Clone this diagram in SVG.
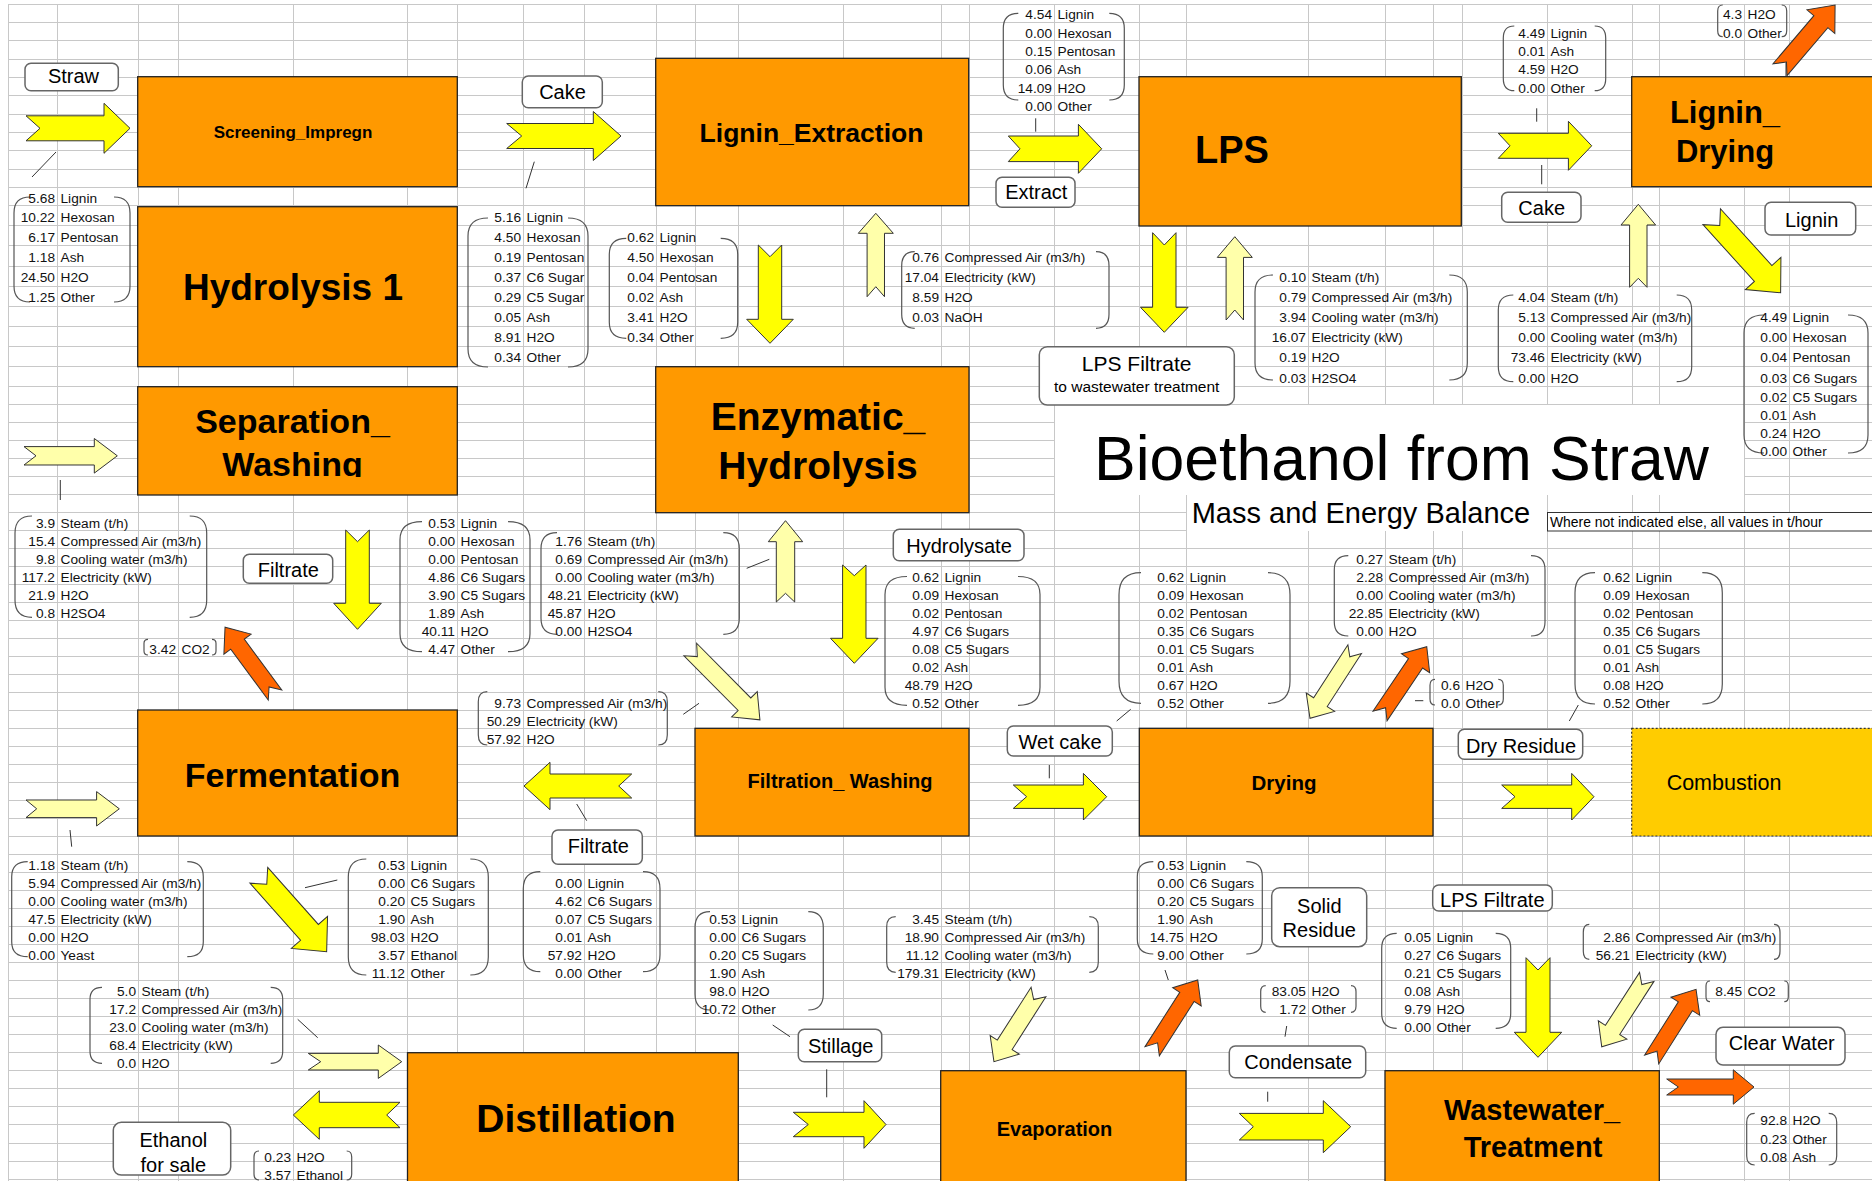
<svg xmlns="http://www.w3.org/2000/svg" width="1872" height="1181" viewBox="0 0 1872 1181">
<defs>
<style>
.g{stroke:#c8c8c8;stroke-width:1;fill:none}
.node{fill:#ff9900;stroke:#222;stroke-width:1.3}
.comb{fill:#ffcc00;stroke:#333;stroke-width:1.2;stroke-dasharray:2 2}
.nt{font-family:"Liberation Sans",Arial,sans-serif;font-weight:bold;fill:#000;text-anchor:middle}
.lb{fill:#fff;stroke:#666;stroke-width:1.5}
.lt{font-family:"Liberation Sans",Arial,sans-serif;font-size:20px;text-anchor:middle;fill:#000}
.br{fill:none;stroke:#555;stroke-width:1.2}
.d text{font-family:"Liberation Sans",Arial,sans-serif;font-size:13.7px;fill:#111}
.nm text{text-anchor:end}
.ay{fill:#ffff00;stroke:#333;stroke-width:1}
.al{fill:#ffffaa;stroke:#333;stroke-width:1}
.ao{fill:#ff6600;stroke:#333;stroke-width:1}
.ln{stroke:#333;stroke-width:1;fill:none}
.tt{font-family:"Liberation Sans",Arial,sans-serif;fill:#000}
</style>
<clipPath id="clipSep"><rect x="138" y="387" width="319" height="90"/></clipPath>
</defs>
<rect width="1872" height="1181" fill="#fff"/>
<g id="grid">
<path class="g" d="M8,4.5H1872M8,22.5H1872M8,40.5H1872M8,59.5H1872M8,77.5H1872M8,95.5H1872M8,114.5H1872M8,132.5H1872M8,150.5H1872M8,169.5H1872M8,187.5H1872M8,205.5H1872M8,225.5H1872M8,245.5H1872M8,266.5H1872M8,286.5H1872M8,306.5H1872M8,326.5H1872M8,346.5H1872M8,366.5H1872M8,386.5H1872M8,404.5H1872M8,422.5H1872M8,440.5H1872M8,458.5H1872M8,476.5H1872M8,494.5H1872M8,512.5H1872M8,530.5H1872M8,548.5H1872M8,566.5H1872M8,584.5H1872M8,602.5H1872M8,620.5H1872M8,638.5H1872M8,656.5H1872M8,674.5H1872M8,692.5H1872M8,710.5H1872M8,728.5H1872M8,746.5H1872M8,764.5H1872M8,782.5H1872M8,800.5H1872M8,818.5H1872M8,836.5H1872M8,854.5H1872M8,872.5H1872M8,890.5H1872M8,908.5H1872M8,926.5H1872M8,944.5H1872M8,962.5H1872M8,980.5H1872M8,998.5H1872M8,1016.5H1872M8,1034.5H1872M8,1052.5H1872M8,1070.5H1872M8,1088.5H1872M8,1106.5H1872M8,1124.5H1872M8,1143.5H1872M8,1161.5H1872M8,1179.5H1872"/>
<path class="g" d="M8.5,4V1181M57.5,4V1181M138.5,4V1181M178.5,4V1181M293.5,4V1181M407.5,4V1181M457.5,4V1181M523.5,4V1181M584.5,4V1181M656.5,4V1181M695.5,4V1181M738.5,4V1181M843.5,4V1181M941.5,4V1181M969.5,4V1181M1054.5,4V1181M1139.5,4V1181M1186.5,4V1181M1308.5,4V1181M1385.5,4V1181M1433.5,4V1181M1462.5,4V1181M1547.5,4V1181M1632.5,4V1181M1659.5,4V1181M1744.5,4V1181M1789.5,4V1181"/>
</g>
<g id="title">
<rect x="1055" y="405" width="689" height="90" fill="#fff"/>
<rect x="1187" y="495" width="360" height="36" fill="#fff"/>
<text class="tt" x="1094" y="480" font-size="62.5">Bioethanol from Straw</text>
<text class="tt" x="1191.7" y="523.3" font-size="29">Mass and Energy Balance</text>
<rect x="1547.5" y="512.5" width="330" height="18.5" fill="#fff" stroke="#333" stroke-width="1"/>
<text class="tt" x="1550" y="526.5" font-size="13.9">Where not indicated else, all values in t/hour</text>
</g>
<g id="node-screening"><rect class="node" x="137.7" y="76.7" width="319.6" height="110"/><text class="nt" x="293" y="138.3" font-size="17">Screening_Impregn</text></g>
<g id="node-hydrolysis1"><rect class="node" x="137.7" y="206.7" width="319.6" height="160"/><text class="nt" x="293" y="300" font-size="37">Hydrolysis 1</text></g>
<g id="node-separation"><rect class="node" x="137.7" y="386.7" width="319.6" height="108.3"/><g clip-path="url(#clipSep)"><text class="nt" x="292.5" y="433" font-size="34">Separation_</text><text class="nt" x="292.5" y="476" font-size="34">Washing</text></g></g>
<g id="node-fermentation"><rect class="node" x="137.7" y="710" width="319.6" height="126"/><text class="nt" x="292.5" y="787" font-size="34">Fermentation</text></g>
<g id="node-lignin-extraction"><rect class="node" x="655.7" y="58.3" width="313" height="147.4"/><text class="nt" x="811.5" y="141.7" font-size="26.5">Lignin_Extraction</text></g>
<g id="node-enzymatic"><rect class="node" x="655.7" y="366.7" width="313.3" height="146"/><text class="nt" x="818" y="429.5" font-size="39">Enzymatic_</text><text class="nt" x="818" y="479.3" font-size="39">Hydrolysis</text></g>
<g id="node-lps"><rect class="node" x="1139" y="76.7" width="322.3" height="149.3"/><text class="nt" x="1195" y="163.3" font-size="38" style="text-anchor:start">LPS</text></g>
<g id="node-lignin-drying"><rect class="node" x="1631.7" y="76.7" width="245" height="110"/><text class="nt" x="1725" y="123.3" font-size="31">Lignin_</text><text class="nt" x="1725" y="161.7" font-size="31">Drying</text></g>
<g id="node-filtration"><rect class="node" x="695" y="728.3" width="274" height="107.7"/><text class="nt" x="840" y="788" font-size="20">Filtration_ Washing</text></g>
<g id="node-drying"><rect class="node" x="1139.3" y="728.3" width="293.7" height="107.7"/><text class="nt" x="1284" y="790" font-size="20.5">Drying</text></g>
<g id="node-combustion"><rect class="comb" x="1631.7" y="728.3" width="245" height="107.7"/><text class="tt" x="1724" y="790.4" font-size="21.5" text-anchor="middle">Combustion</text></g>
<g id="node-distillation"><rect class="node" x="407.5" y="1052.7" width="330.8" height="135"/><text class="nt" x="576" y="1131.7" font-size="39">Distillation</text></g>
<g id="node-evaporation"><rect class="node" x="940.7" y="1070.7" width="245.3" height="115"/><text class="nt" x="1054.5" y="1136" font-size="20">Evaporation</text></g>
<g id="node-wastewater"><rect class="node" x="1385" y="1070.7" width="274.3" height="115"/><text class="nt" x="1532" y="1120" font-size="29">Wastewater_</text><text class="nt" x="1533" y="1156.7" font-size="29">Treatment</text></g>
<g id="connectors">
<polygon class="ay" transform="translate(26,128.3)" points="0,-12.5 78,-12.5 78,-25 104,0 78,25 78,12.5 0,12.5 14,0"/>
<polygon class="ay" transform="translate(506.7,136)" points="0,-12.5 86.6,-12.5 86.6,-24.5 114.3,0 86.6,24.5 86.6,12.5 0,12.5 15,0"/>
<polygon class="ay" transform="translate(770,245) rotate(90)" points="0,-11.7 74.3,-11.7 74.3,-23.3 98.3,0 74.3,23.3 74.3,11.7 0,11.7 11.7,0"/>
<polygon class="al" transform="translate(875.8,296.7) rotate(-90)" points="0,-8.7 63.4,-8.7 63.4,-17.5 83.4,0 63.4,17.5 63.4,8.7 0,8.7 10,0"/>
<polygon class="ay" transform="translate(1008.3,148.8)" points="0,-12.8 70.1,-12.8 70.1,-24.5 93.4,0 70.1,24.5 70.1,12.8 0,12.8 11.7,0"/>
<polygon class="ay" transform="translate(1164.3,232.7) rotate(90)" points="0,-11.7 74.6,-11.7 74.6,-23.8 99.6,0 74.6,23.8 74.6,11.7 0,11.7 12.3,0"/>
<polygon class="al" transform="translate(1234.8,320) rotate(-90)" points="0,-8.7 62.6,-8.7 62.6,-17.5 83.3,0 62.6,17.5 62.6,8.7 0,8.7 10,0"/>
<polygon class="ay" transform="translate(1498.3,145.8)" points="0,-12.5 70.1,-12.5 70.1,-24.5 93.4,0 70.1,24.5 70.1,12.5 0,12.5 11.7,0"/>
<polygon class="al" transform="translate(1638.3,287.3) rotate(-90)" points="0,-8.7 62.3,-8.7 62.3,-17.3 83,0 62.3,17.3 62.3,8.7 0,8.7 9,0"/>
<polygon class="ay" transform="translate(1711.7,216.7) rotate(47.8)" points="0,-11.8 76.6,-11.8 76.6,-24 102.6,0 76.6,24 76.6,11.8 0,11.8 12,0"/>
<polygon class="ao" transform="translate(1780,69.7) rotate(-49.6)" points="0,-9.2 63.1,-9.2 63.1,-18.3 85,0 63.1,18.3 63.1,9.2 0,9.2 10,0"/>
<polygon class="al" transform="translate(24,455.8)" points="0,-9.2 70.3,-9.2 70.3,-17.3 93.3,0 70.3,17.3 70.3,9.2 0,9.2 12,0"/>
<polygon class="ay" transform="translate(357.5,530) rotate(90)" points="0,-11.8 73.3,-11.8 73.3,-23.8 99.3,0 73.3,23.8 73.3,11.8 0,11.8 11.7,0"/>
<polygon class="ao" transform="translate(275,695) rotate(-126.4)" points="0,-8.4 63.2,-8.4 63.2,-16.9 84.2,0 63.2,16.9 63.2,8.4 0,8.4 10,0"/>
<polygon class="al" transform="translate(26,808.8)" points="0,-8.8 70.6,-8.8 70.6,-17.2 93.3,0 70.6,17.2 70.6,8.8 0,8.8 10.7,0"/>
<polygon class="ay" transform="translate(258.8,875.3) rotate(48.4)" points="0,-11.9 76.3,-11.9 76.3,-24.2 102.2,0 76.3,24.2 76.3,11.9 0,11.9 12,0"/>
<polygon class="ay" transform="translate(631.7,786) rotate(180)" points="0,-12 81.7,-12 81.7,-23.7 107.7,0 81.7,23.7 81.7,12 0,12 13,0"/>
<polygon class="al" transform="translate(785.5,602) rotate(-90)" points="0,-9.2 60.3,-9.2 60.3,-17.2 81.3,0 60.3,17.2 60.3,9.2 0,9.2 8.7,0"/>
<polygon class="ay" transform="translate(854.3,565) rotate(90)" points="0,-11.7 73.3,-11.7 73.3,-23.8 98.3,0 73.3,23.8 73.3,11.7 0,11.7 10.7,0"/>
<polygon class="al" transform="translate(690.3,649.5) rotate(45.3)" points="0,-8.9 77,-8.9 77,-18 99,0 77,18 77,8.9 0,8.9 10,0"/>
<polygon class="ay" transform="translate(1013.3,796.7)" points="0,-11.7 70.1,-11.7 70.1,-23.3 93.4,0 70.1,23.3 70.1,11.7 0,11.7 13.3,0"/>
<polygon class="al" transform="translate(1354.7,649.2) rotate(122.9)" points="0,-8.1 63.1,-8.1 63.1,-16.9 82.3,0 63.1,16.9 63.1,8.1 0,8.1 9,0"/>
<polygon class="ao" transform="translate(1380,716) rotate(-56)" points="0,-8.5 63.6,-8.5 63.6,-17 83.6,0 63.6,17 63.6,8.5 0,8.5 10,0"/>
<polygon class="ay" transform="translate(1501.7,796.7)" points="0,-11.7 70,-11.7 70,-23.3 92.3,0 70,23.3 70,11.7 0,11.7 13.3,0"/>
<polygon class="al" transform="translate(308.3,1061.7)" points="0,-8.3 70,-8.3 70,-16.7 93.4,0 70,16.7 70,8.3 0,8.3 12.4,0"/>
<polygon class="ay" transform="translate(400,1115) rotate(180)" points="0,-12.7 80.7,-12.7 80.7,-24.3 106.7,0 80.7,24.3 80.7,12.7 0,12.7 13.3,0"/>
<polygon class="ay" transform="translate(793.3,1124.5)" points="0,-12.2 70.7,-12.2 70.7,-23.8 92.7,0 70.7,23.8 70.7,12.2 0,12.2 15,0"/>
<polygon class="al" transform="translate(1038.5,992) rotate(122.6)" points="0,-8.8 62.7,-8.8 62.7,-17.3 82.7,0 62.7,17.3 62.7,8.8 0,8.8 9,0"/>
<polygon class="ao" transform="translate(1152.2,1051.2) rotate(-57.4)" points="0,-8.5 64.5,-8.5 64.5,-16.9 84.5,0 64.5,16.9 64.5,8.5 0,8.5 10,0"/>
<polygon class="ay" transform="translate(1239.3,1126.7)" points="0,-13.3 84,-13.3 84,-26 111.4,0 84,26 84,13.3 0,13.3 14,0"/>
<polygon class="ay" transform="translate(1538,957.7) rotate(90)" points="0,-12 74.6,-12 74.6,-23.7 99.6,0 74.6,23.7 74.6,12 0,12 12.3,0"/>
<polygon class="al" transform="translate(1646.7,977) rotate(122.8)" points="0,-8.5 63,-8.5 63,-17 83,0 63,17 63,8.5 0,8.5 9,0"/>
<polygon class="ao" transform="translate(1651.7,1059.5) rotate(-57.7)" points="0,-8.3 63,-8.3 63,-17 83,0 63,17 63,8.3 0,8.3 10,0"/>
<polygon class="ao" transform="translate(1666.7,1087)" points="0,-8 66.6,-8 66.6,-17.2 87.3,0 66.6,17.2 66.6,8 0,8 11.7,0"/>
<path class="ln" d="M32,177L56,152M534.3,161.7L526,188.3M1035.7,118.3V131.7M1536.7,108.3V121.7M1541.7,165V184.3M1786,63V76M60.3,480V500M746.7,568.3L769.3,559.3M683.3,714.3L699,703.3M1116.7,721L1130.7,709.3M1049.3,765V778.3M1415,700.7H1423.3M1569.3,721L1578.3,705M70,830L71.7,846.7M305,887.7L337.3,880M576.7,804L586.7,820.7M297.7,1019.3L317.7,1037.7M772.7,1025L790,1036.7M826.7,1069.3V1097.3M1165,970L1168.3,980M1286.7,1026L1285,1036.7M1267.7,1091.7V1101.7"/>
</g>
<g id="labels">
<g id="label-straw"><rect class="lb" x="25" y="63.3" width="93.3" height="27.4" rx="6"/><text class="lt" x="73.5" y="83.3">Straw</text></g>
<g id="label-cake1"><rect class="lb" x="522.3" y="76" width="80" height="31.7" rx="6"/><text class="lt" x="562.5" y="99.3">Cake</text></g>
<g id="label-extract"><rect class="lb" x="996" y="177.3" width="79" height="30" rx="6"/><text class="lt" x="1036.3" y="199.3">Extract</text></g>
<g id="label-lpsfiltrate1"><rect class="lb" x="1039.3" y="346.7" width="195" height="58.3" rx="8"/><text class="lt" x="1136.7" y="370.7" style="font-size:21px">LPS Filtrate</text><text class="lt" x="1136.7" y="391.7" style="font-size:15.5px">to wastewater treatment</text></g>
<g id="label-cake2"><rect class="lb" x="1501.7" y="192.3" width="79.3" height="30" rx="6"/><text class="lt" x="1541.7" y="215">Cake</text></g>
<g id="label-lignin"><rect class="lb" x="1765" y="202.3" width="90.7" height="32.7" rx="6"/><text class="lt" x="1811.7" y="226.7">Lignin</text></g>
<g id="label-filtrate1"><rect class="lb" x="243.3" y="554.3" width="89.4" height="29" rx="6"/><text class="lt" x="288.3" y="576.5">Filtrate</text></g>
<g id="label-hydrolysate"><rect class="lb" x="893.3" y="529.3" width="130.7" height="31.4" rx="6"/><text class="lt" x="959" y="553">Hydrolysate</text></g>
<g id="label-wetcake"><rect class="lb" x="1007.3" y="726" width="105" height="30" rx="6"/><text class="lt" x="1060" y="749">Wet cake</text></g>
<g id="label-dryresidue"><rect class="lb" x="1458.3" y="729.3" width="124.4" height="30" rx="6"/><text class="lt" x="1521" y="752.5">Dry Residue</text></g>
<g id="label-filtrate2"><rect class="lb" x="552" y="830" width="90.3" height="34.3" rx="6"/><text class="lt" x="598.3" y="852.7">Filtrate</text></g>
<g id="label-stillage"><rect class="lb" x="798.3" y="1029.3" width="83.4" height="32.4" rx="6"/><text class="lt" x="840.7" y="1052.7">Stillage</text></g>
<g id="label-solidresidue"><rect class="lb" x="1271.7" y="887.7" width="95" height="59" rx="8"/><text class="lt" x="1319.3" y="912.7">Solid</text><text class="lt" x="1319.3" y="937.3">Residue</text></g>
<g id="label-condensate"><rect class="lb" x="1229.3" y="1046" width="136.4" height="31.7" rx="6"/><text class="lt" x="1298.3" y="1069.3">Condensate</text></g>
<g id="label-lpsfiltrate2"><rect class="lb" x="1432.7" y="885" width="119.6" height="26" rx="6"/><text class="lt" x="1492.3" y="906.7">LPS Filtrate</text></g>
<g id="label-clearwater"><rect class="lb" x="1716" y="1027.3" width="129" height="37.7" rx="7"/><text class="lt" x="1781.7" y="1050">Clear Water</text></g>
<g id="label-ethanol"><rect class="lb" x="113.3" y="1122.3" width="117.4" height="52.7" rx="8"/><text class="lt" x="173.3" y="1146.7">Ethanol</text><text class="lt" x="173.3" y="1171.7">for sale</text></g>
</g>
<g id="data-a" class="d"><path class="br" d="M30,197Q14,197 14,213L14,286Q14,302 30,302M114,197Q130,197 130,213L130,286Q130,302 114,302"/>
<g class="nm"><text x="55" y="202.5">5.68</text><text x="55" y="221.7">10.22</text><text x="55" y="241.8">6.17</text><text x="55" y="261.9">1.18</text><text x="55" y="282">24.50</text><text x="55" y="302.1">1.25</text></g>
<g><text x="60.5" y="202.5">Lignin</text><text x="60.5" y="221.7">Hexosan</text><text x="60.5" y="241.8">Pentosan</text><text x="60.5" y="261.9">Ash</text><text x="60.5" y="282">H2O</text><text x="60.5" y="302.1">Other</text></g></g>
<g id="data-b" class="d"><path class="br" d="M488,218Q468,218 468,236L468,349Q468,367 488,367M568,218Q588,218 588,236L588,349Q588,367 568,367"/>
<g class="nm"><text x="521" y="221.7">5.16</text><text x="521" y="241.8">4.50</text><text x="521" y="261.9">0.19</text><text x="521" y="282">0.37</text><text x="521" y="302.1">0.29</text><text x="521" y="322.2">0.05</text><text x="521" y="342.3">8.91</text><text x="521" y="362.4">0.34</text></g>
<g><text x="526.5" y="221.7">Lignin</text><text x="526.5" y="241.8">Hexosan</text><text x="526.5" y="261.9">Pentosan</text><text x="526.5" y="282">C6 Sugar</text><text x="526.5" y="302.1">C5 Sugar</text><text x="526.5" y="322.2">Ash</text><text x="526.5" y="342.3">H2O</text><text x="526.5" y="362.4">Other</text></g></g>
<g id="data-c" class="d"><path class="br" d="M626.3,238.3Q609.3,238.3 609.3,254.3L609.3,322.3Q609.3,338.3 626.3,338.3M720.7,238.3Q737.7,238.3 737.7,254.3L737.7,322.3Q737.7,338.3 720.7,338.3"/>
<g class="nm"><text x="654" y="241.8">0.62</text><text x="654" y="261.9">4.50</text><text x="654" y="282">0.04</text><text x="654" y="302.1">0.02</text><text x="654" y="322.2">3.41</text><text x="654" y="342.3">0.34</text></g>
<g><text x="659.5" y="241.8">Lignin</text><text x="659.5" y="261.9">Hexosan</text><text x="659.5" y="282">Pentosan</text><text x="659.5" y="302.1">Ash</text><text x="659.5" y="322.2">H2O</text><text x="659.5" y="342.3">Other</text></g></g>
<g id="data-d" class="d"><path class="br" d="M914.7,251.7Q901.7,251.7 901.7,265.7L901.7,314.3Q901.7,328.3 914.7,328.3M1096,251.7Q1109,251.7 1109,265.7L1109,314.3Q1109,328.3 1096,328.3"/>
<g class="nm"><text x="939" y="261.9">0.76</text><text x="939" y="282">17.04</text><text x="939" y="302.1">8.59</text><text x="939" y="322.2">0.03</text></g>
<g><text x="944.5" y="261.9">Compressed Air (m3/h)</text><text x="944.5" y="282">Electricity (kW)</text><text x="944.5" y="302.1">H2O</text><text x="944.5" y="322.2">NaOH</text></g></g>
<g id="data-e" class="d"><path class="br" d="M1018.3,13.3Q1003.3,13.3 1003.3,28.3L1003.3,85Q1003.3,100 1018.3,100M1109.3,13.3Q1124.3,13.3 1124.3,28.3L1124.3,85Q1124.3,100 1109.3,100"/>
<g class="nm"><text x="1052" y="19.2">4.54</text><text x="1052" y="37.5">0.00</text><text x="1052" y="55.8">0.15</text><text x="1052" y="74.2">0.06</text><text x="1052" y="92.5">14.09</text><text x="1052" y="110.8">0.00</text></g>
<g><text x="1057.5" y="19.2">Lignin</text><text x="1057.5" y="37.5">Hexosan</text><text x="1057.5" y="55.8">Pentosan</text><text x="1057.5" y="74.2">Ash</text><text x="1057.5" y="92.5">H2O</text><text x="1057.5" y="110.8">Other</text></g></g>
<g id="data-f" class="d"><path class="br" d="M1273,275Q1255,275 1255,292L1255,363Q1255,380 1273,380M1449.3,275Q1467.3,275 1467.3,292L1467.3,363Q1467.3,380 1449.3,380"/>
<g class="nm"><text x="1306" y="282">0.10</text><text x="1306" y="302.1">0.79</text><text x="1306" y="322.2">3.94</text><text x="1306" y="342.3">16.07</text><text x="1306" y="362.4">0.19</text><text x="1306" y="382.5">0.03</text></g>
<g><text x="1311.5" y="282">Steam (t/h)</text><text x="1311.5" y="302.1">Compressed Air (m3/h)</text><text x="1311.5" y="322.2">Cooling water (m3/h)</text><text x="1311.5" y="342.3">Electricity (kW)</text><text x="1311.5" y="362.4">H2O</text><text x="1311.5" y="382.5">H2SO4</text></g></g>
<g id="data-g" class="d"><path class="br" d="M1514.3,26Q1503.3,26 1503.3,38L1503.3,78.7Q1503.3,90.7 1514.3,90.7M1594.7,26Q1605.7,26 1605.7,38L1605.7,78.7Q1605.7,90.7 1594.7,90.7"/>
<g class="nm"><text x="1545" y="37.5">4.49</text><text x="1545" y="55.8">0.01</text><text x="1545" y="74.2">4.59</text><text x="1545" y="92.5">0.00</text></g>
<g><text x="1550.5" y="37.5">Lignin</text><text x="1550.5" y="55.8">Ash</text><text x="1550.5" y="74.2">H2O</text><text x="1550.5" y="92.5">Other</text></g></g>
<g id="data-h" class="d"><path class="br" d="M1513.3,295Q1498.3,295 1498.3,310L1498.3,366.7Q1498.3,381.7 1513.3,381.7M1676.7,295Q1691.7,295 1691.7,310L1691.7,366.7Q1691.7,381.7 1676.7,381.7"/>
<g class="nm"><text x="1545" y="302.1">4.04</text><text x="1545" y="322.2">5.13</text><text x="1545" y="342.3">0.00</text><text x="1545" y="362.4">73.46</text><text x="1545" y="382.5">0.00</text></g>
<g><text x="1550.5" y="302.1">Steam (t/h)</text><text x="1550.5" y="322.2">Compressed Air (m3/h)</text><text x="1550.5" y="342.3">Cooling water (m3/h)</text><text x="1550.5" y="362.4">Electricity (kW)</text><text x="1550.5" y="382.5">H2O</text></g></g>
<g id="data-i" class="d"><path class="br" d="M1764,315Q1744,315 1744,333L1744,435Q1744,453 1764,453M1848,315Q1868,315 1868,333L1868,435Q1868,453 1848,453"/>
<g class="nm"><text x="1787" y="322.2">4.49</text><text x="1787" y="342.3">0.00</text><text x="1787" y="362.4">0.04</text><text x="1787" y="382.5">0.03</text><text x="1787" y="401.6">0.02</text><text x="1787" y="419.6">0.01</text><text x="1787" y="437.6">0.24</text><text x="1787" y="455.6">0.00</text></g>
<g><text x="1792.5" y="322.2">Lignin</text><text x="1792.5" y="342.3">Hexosan</text><text x="1792.5" y="362.4">Pentosan</text><text x="1792.5" y="382.5">C6 Sugars</text><text x="1792.5" y="401.6">C5 Sugars</text><text x="1792.5" y="419.6">Ash</text><text x="1792.5" y="437.6">H2O</text><text x="1792.5" y="455.6">Other</text></g></g>
<g id="data-j" class="d"><path class="br" d="M32,516Q15,516 15,533L15,600.3Q15,617.3 32,617.3M189.7,516Q206.7,516 206.7,533L206.7,600.3Q206.7,617.3 189.7,617.3"/>
<g class="nm"><text x="55" y="527.7">3.9</text><text x="55" y="545.7">15.4</text><text x="55" y="563.8">9.8</text><text x="55" y="581.8">117.2</text><text x="55" y="599.8">21.9</text><text x="55" y="617.8">0.8</text></g>
<g><text x="60.5" y="527.7">Steam (t/h)</text><text x="60.5" y="545.7">Compressed Air (m3/h)</text><text x="60.5" y="563.8">Cooling water (m3/h)</text><text x="60.5" y="581.8">Electricity (kW)</text><text x="60.5" y="599.8">H2O</text><text x="60.5" y="617.8">H2SO4</text></g></g>
<g id="data-co2a" class="d"><path class="br" d="M148,639.3Q144,639.3 144,643.3L144,651Q144,655 148,655M212,639.3Q216,639.3 216,643.3L216,651Q216,655 212,655"/>
<g class="nm"><text x="176" y="653.9">3.42</text></g><g><text x="181.5" y="653.9">CO2</text></g></g>
<g id="data-k" class="d"><path class="br" d="M422,521.7Q400,521.7 400,539.7L400,633.7Q400,651.7 422,651.7M508,521.7Q530,521.7 530,539.7L530,633.7Q530,651.7 508,651.7"/>
<g class="nm"><text x="455" y="527.7">0.53</text><text x="455" y="545.7">0.00</text><text x="455" y="563.8">0.00</text><text x="455" y="581.8">4.86</text><text x="455" y="599.8">3.90</text><text x="455" y="617.8">1.89</text><text x="455" y="635.8">40.11</text><text x="455" y="653.9">4.47</text></g>
<g><text x="460.5" y="527.7">Lignin</text><text x="460.5" y="545.7">Hexosan</text><text x="460.5" y="563.8">Pentosan</text><text x="460.5" y="581.8">C6 Sugars</text><text x="460.5" y="599.8">C5 Sugars</text><text x="460.5" y="617.8">Ash</text><text x="460.5" y="635.8">H2O</text><text x="460.5" y="653.9">Other</text></g></g>
<g id="data-l" class="d"><path class="br" d="M557,532.7Q541,532.7 541,548.7L541,618.3Q541,634.3 557,634.3M723.3,532.7Q739.3,532.7 739.3,548.7L739.3,618.3Q739.3,634.3 723.3,634.3"/>
<g class="nm"><text x="582" y="545.7">1.76</text><text x="582" y="563.8">0.69</text><text x="582" y="581.8">0.00</text><text x="582" y="599.8">48.21</text><text x="582" y="617.8">45.87</text><text x="582" y="635.8">0.00</text></g>
<g><text x="587.5" y="545.7">Steam (t/h)</text><text x="587.5" y="563.8">Compressed Air (m3/h)</text><text x="587.5" y="581.8">Cooling water (m3/h)</text><text x="587.5" y="599.8">Electricity (kW)</text><text x="587.5" y="617.8">H2O</text><text x="587.5" y="635.8">H2SO4</text></g></g>
<g id="data-m" class="d"><path class="br" d="M487.3,691.7Q478.3,691.7 478.3,701.7L478.3,735Q478.3,745 487.3,745M658.3,691.7Q667.3,691.7 667.3,701.7L667.3,735Q667.3,745 658.3,745"/>
<g class="nm"><text x="521" y="707.9">9.73</text><text x="521" y="725.9">50.29</text><text x="521" y="744">57.92</text></g>
<g><text x="526.5" y="707.9">Compressed Air (m3/h)</text><text x="526.5" y="725.9">Electricity (kW)</text><text x="526.5" y="744">H2O</text></g></g>
<g id="data-n" class="d"><path class="br" d="M907,576.5Q885,576.5 885,594.5L885,687.3Q885,705.3 907,705.3M1018,576.5Q1040,576.5 1040,594.5L1040,687.3Q1040,705.3 1018,705.3"/>
<g class="nm"><text x="939" y="581.8">0.62</text><text x="939" y="599.8">0.09</text><text x="939" y="617.8">0.02</text><text x="939" y="635.8">4.97</text><text x="939" y="653.9">0.08</text><text x="939" y="671.9">0.02</text><text x="939" y="689.9">48.79</text><text x="939" y="707.9">0.52</text></g>
<g><text x="944.5" y="581.8">Lignin</text><text x="944.5" y="599.8">Hexosan</text><text x="944.5" y="617.8">Pentosan</text><text x="944.5" y="635.8">C6 Sugars</text><text x="944.5" y="653.9">C5 Sugars</text><text x="944.5" y="671.9">Ash</text><text x="944.5" y="689.9">H2O</text><text x="944.5" y="707.9">Other</text></g></g>
<g id="data-o" class="d"><path class="br" d="M1141,572.7Q1119,572.7 1119,594.7L1119,681.3Q1119,703.3 1141,703.3M1268,572.7Q1290,572.7 1290,594.7L1290,681.3Q1290,703.3 1268,703.3"/>
<g class="nm"><text x="1184" y="581.8">0.62</text><text x="1184" y="599.8">0.09</text><text x="1184" y="617.8">0.02</text><text x="1184" y="635.8">0.35</text><text x="1184" y="653.9">0.01</text><text x="1184" y="671.9">0.01</text><text x="1184" y="689.9">0.67</text><text x="1184" y="707.9">0.52</text></g>
<g><text x="1189.5" y="581.8">Lignin</text><text x="1189.5" y="599.8">Hexosan</text><text x="1189.5" y="617.8">Pentosan</text><text x="1189.5" y="635.8">C6 Sugars</text><text x="1189.5" y="653.9">C5 Sugars</text><text x="1189.5" y="671.9">Ash</text><text x="1189.5" y="689.9">H2O</text><text x="1189.5" y="707.9">Other</text></g></g>
<g id="data-p" class="d"><path class="br" d="M1348.3,555.7Q1334.3,555.7 1334.3,569.7L1334.3,622Q1334.3,636 1348.3,636M1531,555.7Q1545,555.7 1545,569.7L1545,622Q1545,636 1531,636"/>
<g class="nm"><text x="1383" y="563.8">0.27</text><text x="1383" y="581.8">2.28</text><text x="1383" y="599.8">0.00</text><text x="1383" y="617.8">22.85</text><text x="1383" y="635.8">0.00</text></g>
<g><text x="1388.5" y="563.8">Steam (t/h)</text><text x="1388.5" y="581.8">Compressed Air (m3/h)</text><text x="1388.5" y="599.8">Cooling water (m3/h)</text><text x="1388.5" y="617.8">Electricity (kW)</text><text x="1388.5" y="635.8">H2O</text></g></g>
<g id="data-q" class="d"><path class="br" d="M1435,679.3Q1430,679.3 1430,685.3L1430,699Q1430,705 1435,705M1498.3,679.3Q1503.3,679.3 1503.3,685.3L1503.3,699Q1503.3,705 1498.3,705"/>
<g class="nm"><text x="1460" y="689.9">0.6</text><text x="1460" y="707.9">0.0</text></g>
<g><text x="1465.5" y="689.9">H2O</text><text x="1465.5" y="707.9">Other</text></g></g>
<g id="data-r" class="d"><path class="br" d="M1595,572.7Q1575,572.7 1575,592.7L1575,684Q1575,704 1595,704M1702.3,572.7Q1722.3,572.7 1722.3,592.7L1722.3,684Q1722.3,704 1702.3,704"/>
<g class="nm"><text x="1630" y="581.8">0.62</text><text x="1630" y="599.8">0.09</text><text x="1630" y="617.8">0.02</text><text x="1630" y="635.8">0.35</text><text x="1630" y="653.9">0.01</text><text x="1630" y="671.9">0.01</text><text x="1630" y="689.9">0.08</text><text x="1630" y="707.9">0.52</text></g>
<g><text x="1635.5" y="581.8">Lignin</text><text x="1635.5" y="599.8">Hexosan</text><text x="1635.5" y="617.8">Pentosan</text><text x="1635.5" y="635.8">C6 Sugars</text><text x="1635.5" y="653.9">C5 Sugars</text><text x="1635.5" y="671.9">Ash</text><text x="1635.5" y="689.9">H2O</text><text x="1635.5" y="707.9">Other</text></g></g>
<g id="data-s" class="d"><path class="br" d="M27.7,861.7Q11.7,861.7 11.7,876.7L11.7,941.7Q11.7,956.7 27.7,956.7M187.3,861.7Q203.3,861.7 203.3,876.7L203.3,941.7Q203.3,956.7 187.3,956.7"/>
<g class="nm"><text x="55" y="870.1">1.18</text><text x="55" y="888.1">5.94</text><text x="55" y="906.1">0.00</text><text x="55" y="924.2">47.5</text><text x="55" y="942.2">0.00</text><text x="55" y="960.2">0.00</text></g>
<g><text x="60.5" y="870.1">Steam (t/h)</text><text x="60.5" y="888.1">Compressed Air (m3/h)</text><text x="60.5" y="906.1">Cooling water (m3/h)</text><text x="60.5" y="924.2">Electricity (kW)</text><text x="60.5" y="942.2">H2O</text><text x="60.5" y="960.2">Yeast</text></g></g>
<g id="data-t" class="d"><path class="br" d="M366.3,859Q348.3,859 348.3,877L348.3,957Q348.3,975 366.3,975M470.3,859Q488.3,859 488.3,877L488.3,957Q488.3,975 470.3,975"/>
<g class="nm"><text x="405" y="870.1">0.53</text><text x="405" y="888.1">0.00</text><text x="405" y="906.1">0.20</text><text x="405" y="924.2">1.90</text><text x="405" y="942.2">98.03</text><text x="405" y="960.2">3.57</text><text x="405" y="978.2">11.12</text></g>
<g><text x="410.5" y="870.1">Lignin</text><text x="410.5" y="888.1">C6 Sugars</text><text x="410.5" y="906.1">C5 Sugars</text><text x="410.5" y="924.2">Ash</text><text x="410.5" y="942.2">H2O</text><text x="410.5" y="960.2">Ethanol</text><text x="410.5" y="978.2">Other</text></g></g>
<g id="data-u" class="d"><path class="br" d="M540.3,871.7Q523.3,871.7 523.3,888.7L523.3,954.7Q523.3,971.7 540.3,971.7M643,871.7Q660,871.7 660,888.7L660,954.7Q660,971.7 643,971.7"/>
<g class="nm"><text x="582" y="888.1">0.00</text><text x="582" y="906.1">4.62</text><text x="582" y="924.2">0.07</text><text x="582" y="942.2">0.01</text><text x="582" y="960.2">57.92</text><text x="582" y="978.2">0.00</text></g>
<g><text x="587.5" y="888.1">Lignin</text><text x="587.5" y="906.1">C6 Sugars</text><text x="587.5" y="924.2">C5 Sugars</text><text x="587.5" y="942.2">Ash</text><text x="587.5" y="960.2">H2O</text><text x="587.5" y="978.2">Other</text></g></g>
<g id="data-v" class="d"><path class="br" d="M102,987.3Q90,987.3 90,999.3L90,1051.3Q90,1063.3 102,1063.3M270.7,987.3Q282.7,987.3 282.7,999.3L282.7,1051.3Q282.7,1063.3 270.7,1063.3"/>
<g class="nm"><text x="136" y="996.2">5.0</text><text x="136" y="1014.3">17.2</text><text x="136" y="1032.3">23.0</text><text x="136" y="1050.3">68.4</text><text x="136" y="1068.3">0.0</text></g>
<g><text x="141.5" y="996.2">Steam (t/h)</text><text x="141.5" y="1014.3">Compressed Air (m3/h)</text><text x="141.5" y="1032.3">Cooling water (m3/h)</text><text x="141.5" y="1050.3">Electricity (kW)</text><text x="141.5" y="1068.3">H2O</text></g></g>
<g id="data-w" class="d"><path class="br" d="M259,1151Q254,1151 254,1157L254,1174Q254,1180 259,1180M346.7,1151Q351.7,1151 351.7,1157L351.7,1174Q351.7,1180 346.7,1180"/>
<g class="nm"><text x="291" y="1161.5">0.23</text><text x="291" y="1179.5">3.57</text></g>
<g><text x="296.5" y="1161.5">H2O</text><text x="296.5" y="1179.5">Ethanol</text></g></g>
<g id="data-x" class="d"><path class="br" d="M710,911.7Q695,911.7 695,927.7L695,994Q695,1010 710,1010M808.3,911.7Q823.3,911.7 823.3,927.7L823.3,994Q823.3,1010 808.3,1010"/>
<g class="nm"><text x="736" y="924.2">0.53</text><text x="736" y="942.2">0.00</text><text x="736" y="960.2">0.20</text><text x="736" y="978.2">1.90</text><text x="736" y="996.2">98.0</text><text x="736" y="1014.3">10.72</text></g>
<g><text x="741.5" y="924.2">Lignin</text><text x="741.5" y="942.2">C6 Sugars</text><text x="741.5" y="960.2">C5 Sugars</text><text x="741.5" y="978.2">Ash</text><text x="741.5" y="996.2">H2O</text><text x="741.5" y="1014.3">Other</text></g></g>
<g id="data-y" class="d"><path class="br" d="M895.7,916.7Q886.7,916.7 886.7,926.7L886.7,962.3Q886.7,972.3 895.7,972.3M1089.3,916.7Q1098.3,916.7 1098.3,926.7L1098.3,962.3Q1098.3,972.3 1089.3,972.3"/>
<g class="nm"><text x="939" y="924.2">3.45</text><text x="939" y="942.2">18.90</text><text x="939" y="960.2">11.12</text><text x="939" y="978.2">179.31</text></g>
<g><text x="944.5" y="924.2">Steam (t/h)</text><text x="944.5" y="942.2">Compressed Air (m3/h)</text><text x="944.5" y="960.2">Cooling water (m3/h)</text><text x="944.5" y="978.2">Electricity (kW)</text></g></g>
<g id="data-z" class="d"><path class="br" d="M1153.3,861.7Q1137.3,861.7 1137.3,876.7L1137.3,939Q1137.3,954 1153.3,954M1246.3,861.7Q1262.3,861.7 1262.3,876.7L1262.3,939Q1262.3,954 1246.3,954"/>
<g class="nm"><text x="1184" y="870.1">0.53</text><text x="1184" y="888.1">0.00</text><text x="1184" y="906.1">0.20</text><text x="1184" y="924.2">1.90</text><text x="1184" y="942.2">14.75</text><text x="1184" y="960.2">9.00</text></g>
<g><text x="1189.5" y="870.1">Lignin</text><text x="1189.5" y="888.1">C6 Sugars</text><text x="1189.5" y="906.1">C5 Sugars</text><text x="1189.5" y="924.2">Ash</text><text x="1189.5" y="942.2">H2O</text><text x="1189.5" y="960.2">Other</text></g></g>
<g id="data-aa" class="d"><path class="br" d="M1265.7,985.7Q1260.7,985.7 1260.7,991.7L1260.7,1006.3Q1260.7,1012.3 1265.7,1012.3M1351,985.7Q1356,985.7 1356,991.7L1356,1006.3Q1356,1012.3 1351,1012.3"/>
<g class="nm"><text x="1306" y="996.2">83.05</text><text x="1306" y="1014.3">1.72</text></g>
<g><text x="1311.5" y="996.2">H2O</text><text x="1311.5" y="1014.3">Other</text></g></g>
<g id="data-ab" class="d"><path class="br" d="M1396.7,933.3Q1381.7,933.3 1381.7,948.3L1381.7,1013.3Q1381.7,1028.3 1396.7,1028.3M1495.7,933.3Q1510.7,933.3 1510.7,948.3L1510.7,1013.3Q1510.7,1028.3 1495.7,1028.3"/>
<g class="nm"><text x="1431" y="942.2">0.05</text><text x="1431" y="960.2">0.27</text><text x="1431" y="978.2">0.21</text><text x="1431" y="996.2">0.08</text><text x="1431" y="1014.3">9.79</text><text x="1431" y="1032.3">0.00</text></g>
<g><text x="1436.5" y="942.2">Lignin</text><text x="1436.5" y="960.2">C6 Sugars</text><text x="1436.5" y="978.2">C5 Sugars</text><text x="1436.5" y="996.2">Ash</text><text x="1436.5" y="1014.3">H2O</text><text x="1436.5" y="1032.3">Other</text></g></g>
<g id="data-ac" class="d"><path class="br" d="M1589.3,924.3Q1583.3,924.3 1583.3,932.3L1583.3,951.3Q1583.3,959.3 1589.3,959.3M1774,924.3Q1780,924.3 1780,932.3L1780,951.3Q1780,959.3 1774,959.3"/>
<g class="nm"><text x="1630" y="942.2">2.86</text><text x="1630" y="960.2">56.21</text></g>
<g><text x="1635.5" y="942.2">Compressed Air (m3/h)</text><text x="1635.5" y="960.2">Electricity (kW)</text></g></g>
<g id="data-ad" class="d"><path class="br" d="M1710,981Q1706,981 1706,986L1706,996.7Q1706,1001.7 1710,1001.7M1784.3,981Q1788.3,981 1788.3,986L1788.3,996.7Q1788.3,1001.7 1784.3,1001.7"/>
<g class="nm"><text x="1742" y="996.2">8.45</text></g><g><text x="1747.5" y="996.2">CO2</text></g></g>
<g id="data-ae" class="d"><path class="br" d="M1754.7,1113.3Q1746.7,1113.3 1746.7,1122.3L1746.7,1156Q1746.7,1165 1754.7,1165M1828.7,1113.3Q1836.7,1113.3 1836.7,1122.3L1836.7,1156Q1836.7,1165 1828.7,1165"/>
<g class="nm"><text x="1787" y="1125">92.8</text><text x="1787" y="1143.5">0.23</text><text x="1787" y="1161.5">0.08</text></g>
<g><text x="1792.5" y="1125">H2O</text><text x="1792.5" y="1143.5">Other</text><text x="1792.5" y="1161.5">Ash</text></g></g>
<g id="data-af" class="d"><path class="br" d="M1722.7,5Q1717.7,5 1717.7,11L1717.7,30.7Q1717.7,36.7 1722.7,36.7M1781.7,5Q1786.7,5 1786.7,11L1786.7,30.7Q1786.7,36.7 1781.7,36.7"/>
<g class="nm"><text x="1742" y="19.2">4.3</text><text x="1742" y="37.5">0.0</text></g>
<g><text x="1747.5" y="19.2">H2O</text><text x="1747.5" y="37.5">Other</text></g></g>
</svg>
